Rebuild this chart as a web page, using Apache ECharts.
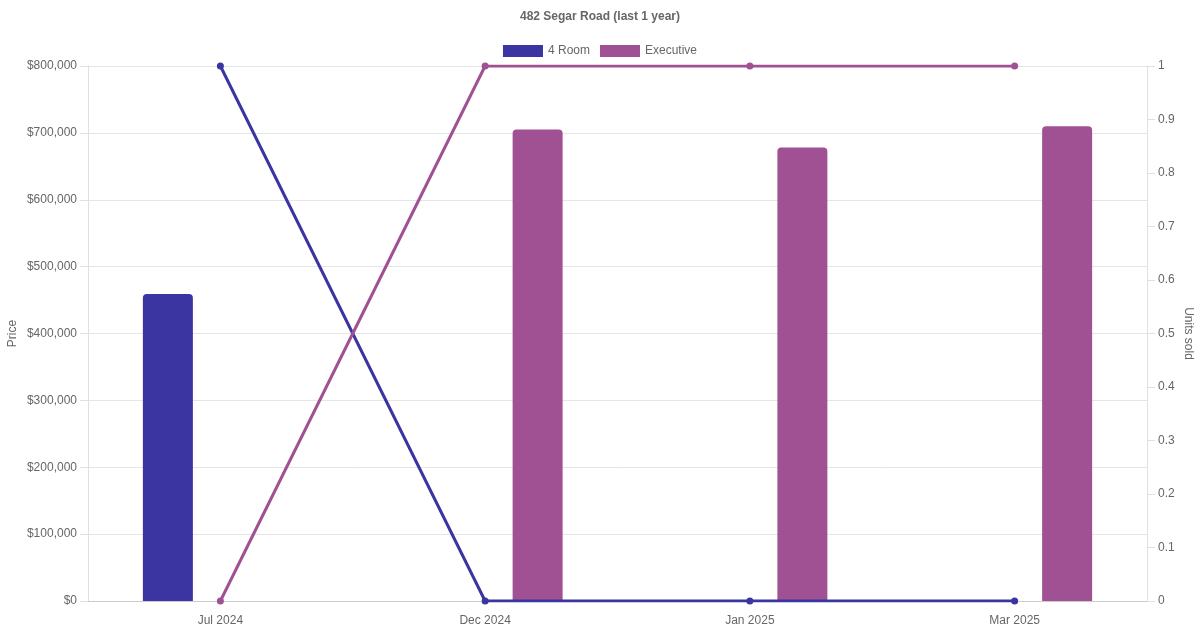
<!DOCTYPE html>
<html><head><meta charset="utf-8">
<script src="https://cdn.jsdelivr.net/npm/echarts@6/dist/echarts.min.js"></script>
<style>html,body{margin:0;padding:0;background:#fff}#c{width:1200px;height:630px}</style>
</head><body><div id="c"></div>
<script>
const categories = ['Jul 2024', 'Dec 2024', 'Jan 2025', 'Mar 2025'];
const priceFourRoom = [459000, null, null, null];
const priceExecutive = [null, 705000, 678000, 710000];
const unitsFourRoom = [1, 0, 0, 0];
const unitsExecutive = [0, 1, 1, 1];
const colFour = '#3a35a0';
const colExec = '#a05193';
const chart = echarts.init(document.getElementById('c'));
const axisLabelStyle = {color: '#666', fontSize: 12, fontFamily: 'Liberation Sans, Arial'};
chart.setOption({
  animation: false,
  textStyle: {fontFamily: 'Liberation Sans, Arial'},
  title: {text: '482 Segar Road (last 1 year)', left: 'center', top: 6,
    textStyle: {fontSize: 12, fontWeight: 'bold', color: '#666'}},
  legend: {top: 40, left: 'center', itemWidth: 40, itemHeight: 12, itemGap: 10,
    textStyle: {color: '#666', fontSize: 12},
    data: [{name: '4 Room', icon: 'rect'}, {name: 'Executive', icon: 'rect'}]},
  grid: {left: 88, right: 53, top: 66, bottom: 29, containLabel: false, outerBoundsMode: 'none'},
  xAxis: {type: 'category', data: categories,
    axisLine: {lineStyle: {color: '#ccc'}}, axisTick: {show: false},
    axisLabel: Object.assign({margin: 14}, axisLabelStyle), splitLine: {show: false}},
  yAxis: [
    {type: 'value', name: 'Price', nameLocation: 'middle', nameGap: 69, nameRotate: 90, nameMoveOverlap: false,
      nameTextStyle: {color: '#666', fontSize: 12},
      min: 0, max: 800000, interval: 100000,
      axisLine: {show: true, lineStyle: {color: '#e0e0e0'}},
      axisTick: {show: true, length: 8, lineStyle: {color: '#e0e0e0'}},
      axisLabel: Object.assign({margin: 11, formatter: v => '$' + v.toLocaleString('en-US')}, axisLabelStyle),
      splitLine: {lineStyle: {color: '#e5e5e5'}}},
    {type: 'value', name: 'Units sold', nameLocation: 'middle', nameGap: 35, nameRotate: -90, nameMoveOverlap: false,
      nameTextStyle: {color: '#666', fontSize: 12},
      min: 0, max: 1, interval: 0.1, position: 'right',
      axisLine: {show: true, lineStyle: {color: '#e0e0e0'}},
      axisTick: {show: true, length: 8, lineStyle: {color: '#e0e0e0'}},
      axisLabel: Object.assign({margin: 11, formatter: v => String(Math.round(v*10)/10)}, axisLabelStyle),
      splitLine: {show: false}}
  ],
  series: [
    {name: '4 Room', type: 'bar', yAxisIndex: 0, data: priceFourRoom, barWidth: 50, barGap: '110%',
      itemStyle: {color: colFour, borderRadius: [4, 4, 0, 0]}},
    {name: 'Executive', type: 'bar', yAxisIndex: 0, data: priceExecutive, barWidth: 50, barGap: '110%',
      itemStyle: {color: colExec, borderRadius: [4, 4, 0, 0]}},
    {name: '4 Room', type: 'line', yAxisIndex: 1, data: unitsFourRoom, symbol: 'circle', symbolSize: 7,
      lineStyle: {width: 3, color: colFour}, itemStyle: {color: colFour}, z: 5},
    {name: 'Executive', type: 'line', yAxisIndex: 1, data: unitsExecutive, symbol: 'circle', symbolSize: 7,
      lineStyle: {width: 3, color: colExec}, itemStyle: {color: colExec}, z: 5}
  ]
});
</script></body></html>
